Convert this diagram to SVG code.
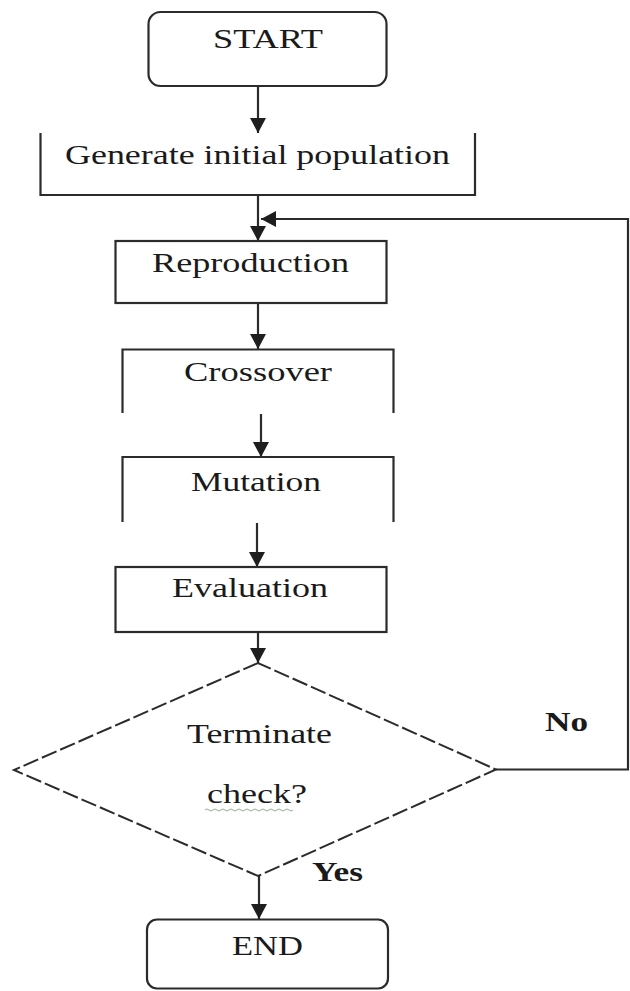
<svg xmlns="http://www.w3.org/2000/svg" width="630" height="991" viewBox="0 0 630 991">
  <defs>
    <style>
      .box { fill: none; stroke: #2b2b2b; stroke-width: 2.2; }
      .dia { fill: none; stroke: #2b2b2b; stroke-width: 2; stroke-dasharray: 16 4; }
      .conn { fill: none; stroke: #2b2b2b; stroke-width: 2.2; }
      .lbl { font-family: "Liberation Serif", "Times New Roman", serif; font-size: 28px; fill: #1a1a1a; }
      .bold { font-weight: bold; }
    </style>
    <marker id="arrow" markerUnits="userSpaceOnUse" markerWidth="16" markerHeight="16" refX="15" refY="8" orient="auto">
      <path d="M0,0 L15,8 L0,16 z" fill="#1e1e1e"/>
    </marker>
  </defs>
  <rect width="630" height="991" fill="#ffffff"/>

  <g id="connectors">
    <path class="conn" d="M258,86 L258,133" marker-end="url(#arrow)"/>
    <path class="conn" d="M258,195 L258,241" marker-end="url(#arrow)"/>
    <path class="conn" d="M258,303 L258,349" marker-end="url(#arrow)"/>
    <path class="conn" d="M261,414 L261,457" marker-end="url(#arrow)"/>
    <path class="conn" d="M257,523 L257,567" marker-end="url(#arrow)"/>
    <path class="conn" d="M258,632 L258,663" marker-end="url(#arrow)"/>
    <path class="conn" d="M259,876 L259,919" marker-end="url(#arrow)"/>
    <path class="conn" d="M496,769.5 L628,769.5 L628,219 L261,219" marker-end="url(#arrow)"/>
    <text class="lbl bold" x="545" y="731" textLength="43" lengthAdjust="spacingAndGlyphs">No</text>
    <text class="lbl bold" x="312" y="881" textLength="51" lengthAdjust="spacingAndGlyphs">Yes</text>
  </g>

  <g id="start">
    <rect class="box" x="148.5" y="12" width="238" height="74" rx="12"/>
    <text class="lbl" x="213" y="48" textLength="110" lengthAdjust="spacingAndGlyphs">START</text>
  </g>

  <g id="generate">
    <path class="box" d="M40.5,133 V195 H475 V133"/>
    <text class="lbl" x="65" y="164" textLength="385" lengthAdjust="spacingAndGlyphs">Generate initial population</text>
  </g>

  <g id="reproduction">
    <rect class="box" x="115.5" y="241" width="271" height="62"/>
    <text class="lbl" x="152" y="272" textLength="197" lengthAdjust="spacingAndGlyphs">Reproduction</text>
  </g>

  <g id="crossover">
    <path class="box" d="M122.5,413 V349.5 H393.5 V413"/>
    <text class="lbl" x="184" y="381" textLength="148" lengthAdjust="spacingAndGlyphs">Crossover</text>
  </g>

  <g id="mutation">
    <path class="box" d="M122.5,522 V457 H393.5 V522"/>
    <text class="lbl" x="191" y="491" textLength="130" lengthAdjust="spacingAndGlyphs">Mutation</text>
  </g>

  <g id="evaluation">
    <rect class="box" x="115.5" y="567" width="271" height="65"/>
    <text class="lbl" x="172" y="597" textLength="156" lengthAdjust="spacingAndGlyphs">Evaluation</text>
  </g>

  <g id="terminate-check">
    <polygon class="dia" points="258,663 14,770 258,876 496,769.5"/>
    <text class="lbl" x="187" y="743" textLength="145" lengthAdjust="spacingAndGlyphs">Terminate</text>
    <text class="lbl" x="207" y="803" textLength="100" lengthAdjust="spacingAndGlyphs">check?</text>
    <path d="M205,810 q2,-2 4,0 t4,0 t4,0 t4,0 t4,0 t4,0 t4,0 t4,0 t4,0 t4,0 t4,0 t4,0 t4,0 t4,0 t4,0 t4,0 t4,0 t4,0 t4,0 t4,0 t4,0 t4,0" fill="none" stroke="#8fb08f" stroke-width="1"/>
  </g>

  <g id="end">
    <rect class="box" x="147" y="919.5" width="241" height="69" rx="10"/>
    <text class="lbl" x="232" y="955" textLength="71" lengthAdjust="spacingAndGlyphs">END</text>
  </g>
</svg>
